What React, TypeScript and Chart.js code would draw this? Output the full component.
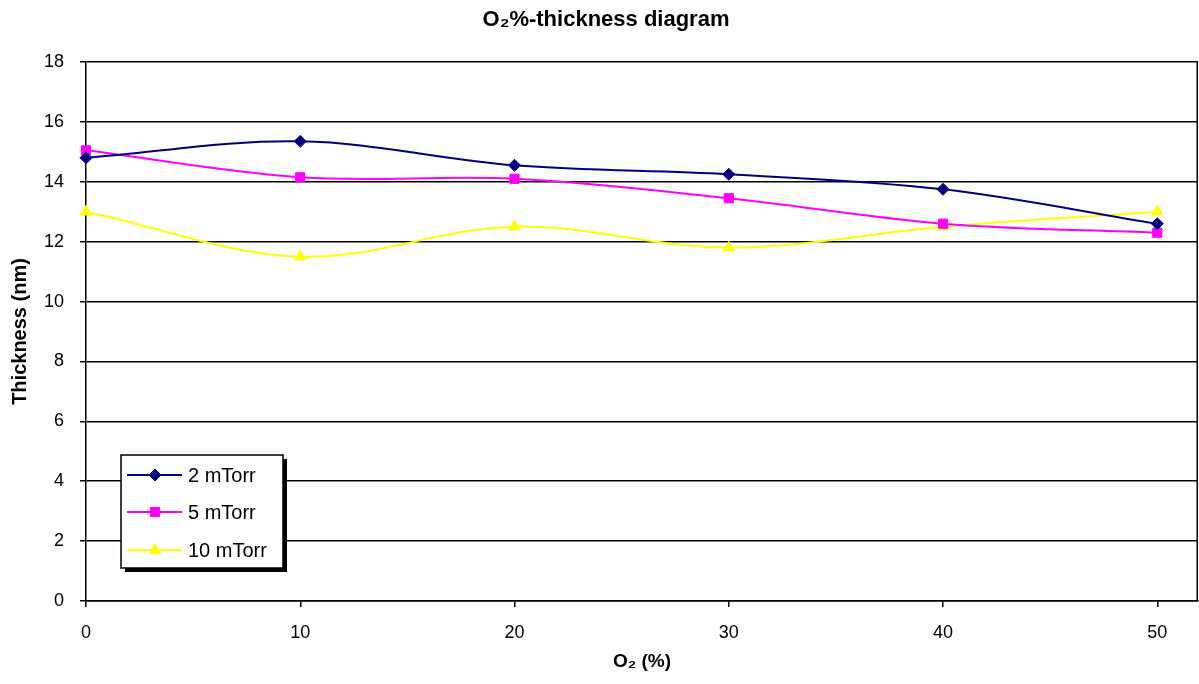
import React, { useEffect, useRef } from 'react';
import { Chart, registerables } from 'chart.js';

Chart.register(...registerables);

const TITLE = 'O₂%-thickness diagram';
const X_TITLE = 'O₂ (%)';
const Y_TITLE = 'Thickness (nm)';

const oxygenPercent = [0, 10, 20, 30, 40, 50];
const xTickValues = [0, 10, 20, 30, 40, 50];
const seriesLabels = ['2 mTorr', '5 mTorr', '10 mTorr'];
const thickness2mTorr = [14.8, 15.35, 14.55, 14.25, 13.75, 12.6];
const thickness5mTorr = [15.05, 14.15, 14.1, 13.45, 12.6, 12.3];
const thickness10mTorr = [13.0, 11.5, 12.5, 11.8, 12.5, 13.0];

const seriesColors = ['#000080', '#FF00FF', '#FFFF00'];
const seriesMarkers = ['rectRot', 'rect', 'triangle'];
const seriesRadius = [6, 6.5, 6.5];

const FONT = '"Liberation Sans", Arial, Helvetica, sans-serif';

function drawMarker(ctx: CanvasRenderingContext2D, style: string, x: number, y: number, r: number, color: string) {
  ctx.save();
  ctx.fillStyle = color;
  ctx.strokeStyle = color;
  ctx.lineWidth = 1;
  ctx.beginPath();
  if (style === 'rectRot') {
    ctx.moveTo(x - r, y);
    ctx.lineTo(x, y - r);
    ctx.lineTo(x + r, y);
    ctx.lineTo(x, y + r);
    ctx.closePath();
  } else if (style === 'rect') {
    const s = Math.SQRT1_2 * r;
    ctx.rect(x - s, y - s, 2 * s, 2 * s);
  } else {
    const side = (r * 3) / Math.sqrt(3);
    ctx.moveTo(x - side / 2, y + r / 2 + 0.5);
    ctx.lineTo(x, y - r);
    ctx.lineTo(x + side / 2, y + r / 2 + 0.5);
    ctx.closePath();
  }
  ctx.fill();
  ctx.stroke();
  ctx.restore();
}

const decorPlugin = {
  id: 'decor',
  afterDraw(chart: any) {
    const { ctx, chartArea } = chart;
    ctx.save();
    // right border of plot area
    ctx.strokeStyle = '#000';
    ctx.lineWidth = 1.5;
    ctx.beginPath();
    ctx.moveTo(chartArea.right - 0.75, chartArea.top);
    ctx.lineTo(chartArea.right - 0.75, chartArea.bottom);
    ctx.stroke();

    // title
    ctx.fillStyle = '#000';
    ctx.font = 'bold 22px ' + FONT;
    ctx.textAlign = 'center';
    ctx.textBaseline = 'middle';
    ctx.fillText(TITLE, 606, 20);

    // legend box
    const bx = 121, by = 455, bw = 162, bh = 113;
    ctx.fillStyle = '#000';
    ctx.fillRect(bx + 4, by + 4, bw, bh);
    ctx.fillStyle = '#fff';
    ctx.fillRect(bx, by, bw, bh);
    ctx.strokeStyle = '#000';
    ctx.lineWidth = 1.5;
    ctx.strokeRect(bx, by, bw, bh);

    const rows = [475, 512, 550];
    chart.data.datasets.forEach((ds: any, i: number) => {
      const y = rows[i];
      ctx.strokeStyle = ds.borderColor;
      ctx.lineWidth = 2;
      ctx.beginPath();
      ctx.moveTo(127, y);
      ctx.lineTo(182, y);
      ctx.stroke();
      drawMarker(ctx, ds.pointStyle, 155, y, ds.pointRadius, ds.borderColor);
      ctx.fillStyle = '#000';
      ctx.font = '20px ' + FONT;
      ctx.textAlign = 'left';
      ctx.textBaseline = 'middle';
      ctx.fillText(ds.label, 188, y + 1);
    });
    ctx.restore();
  },
};

export default function App() {
  const canvasRef = useRef<HTMLCanvasElement | null>(null);

  useEffect(() => {
    const canvas = canvasRef.current;
    if (!canvas) return;
    const seriesData = [thickness2mTorr, thickness5mTorr, thickness10mTorr];
    const chart = new Chart(canvas, {
      type: 'line',
      data: {
        datasets: seriesLabels.map((label, i) => ({
          label,
          data: oxygenPercent.map((x, j) => ({ x, y: seriesData[i][j] })),
          borderColor: seriesColors[i],
          backgroundColor: seriesColors[i],
          pointBackgroundColor: seriesColors[i],
          pointBorderColor: seriesColors[i],
          pointStyle: seriesMarkers[i],
          pointRadius: seriesRadius[i],
          pointBorderWidth: 1,
          borderWidth: 2,
          tension: 0.35,
          fill: false,
          clip: false,
        })),
      },
      options: {
        responsive: false,
        maintainAspectRatio: false,
        animation: false,
        layout: { autoPadding: false, padding: { top: 62, right: 1, left: 0, bottom: 0 } },
        plugins: {
          legend: { display: false },
          title: { display: false },
          tooltip: { enabled: false },
        },
        scales: {
          x: {
            type: 'linear',
            min: 0,
            max: 51.9,
            afterBuildTicks: (scale: any) => {
              scale.ticks = xTickValues.map((v) => ({ value: v }));
            },
            afterFit: (scale: any) => {
              scale.height = 83;
            },
            grid: {
              drawOnChartArea: false,
              drawTicks: true,
              tickLength: 6,
              color: '#000',
              lineWidth: 1.5,
            },
            border: { display: true, color: '#000', width: 1.5 },
            ticks: {
              color: '#000',
              font: { family: FONT, size: 18 },
              padding: 15,
              maxRotation: 0,
              autoSkip: false,
            },
            title: {
              display: true,
              text: X_TITLE,
              color: '#000',
              font: { family: FONT, size: 19, weight: 'bold' },
              padding: { top: 0, bottom: 11 },
            },
          },
          y: {
            type: 'linear',
            min: 0,
            max: 18,
            afterFit: (scale: any) => {
              scale.width = 86;
            },
            grid: {
              drawOnChartArea: true,
              drawTicks: true,
              tickLength: 6,
              color: '#000',
              lineWidth: 1.5,
            },
            border: { display: true, color: '#000', width: 1.5 },
            ticks: {
              stepSize: 2,
              color: '#000',
              font: { family: FONT, size: 18 },
              padding: 16,
            },
            title: {
              display: true,
              text: Y_TITLE,
              color: '#000',
              font: { family: FONT, size: 20, weight: 'bold' },
              padding: { top: 8, bottom: 0 },
            },
          },
        },
      },
      plugins: [decorPlugin],
    } as any);
    return () => chart.destroy();
  }, []);

  return (
    <div style={{ position: 'absolute', left: 0, top: 0, width: 1199, height: 684, background: '#fff' }}>
      <canvas ref={canvasRef} width={1199} height={684} style={{ display: 'block', width: 1199, height: 684 }} />
    </div>
  );
}
